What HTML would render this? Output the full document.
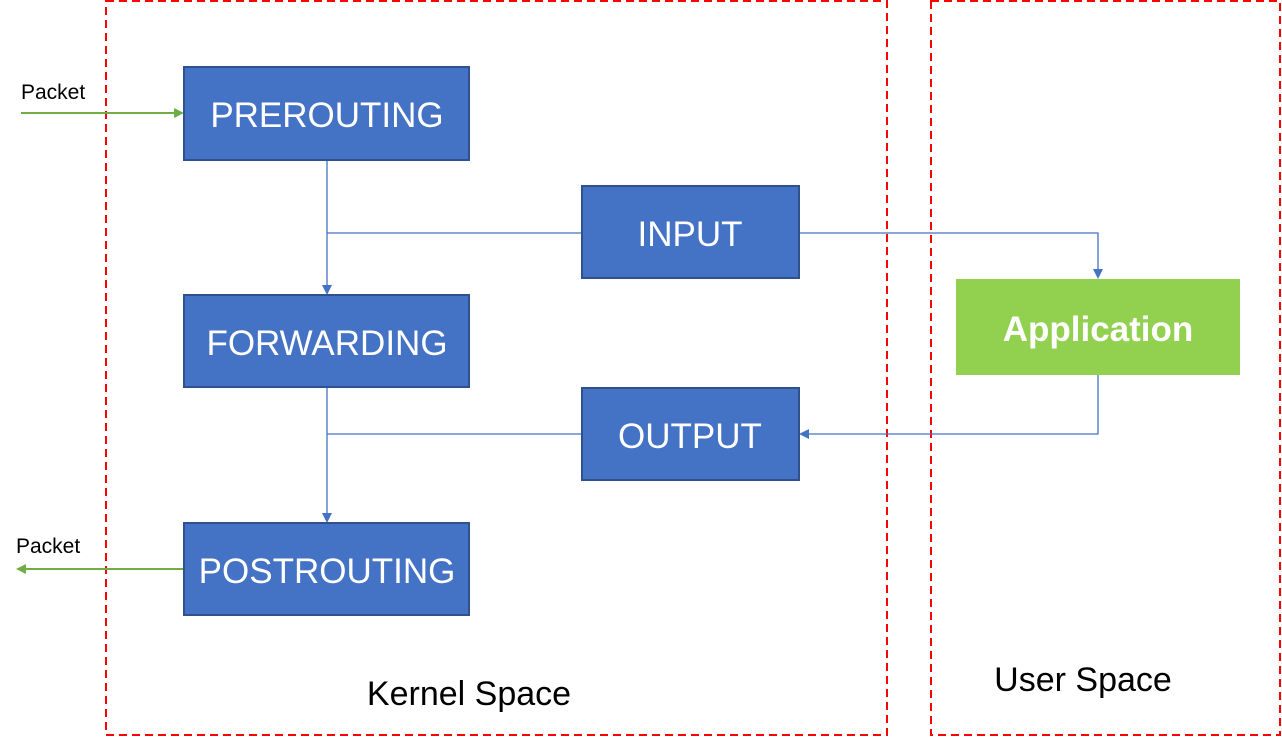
<!DOCTYPE html>
<html><head><style>
body{margin:0;background:#fff;width:1282px;height:737px;overflow:hidden;font-family:"Segoe UI","Liberation Sans",sans-serif}
</style></head><body>
<svg width="1282" height="737" xmlns="http://www.w3.org/2000/svg" font-family="Liberation Sans, sans-serif">
<rect x="106" y="1" width="781" height="734" fill="none" stroke="#f00" stroke-width="2" stroke-dasharray="8,5"/>
<rect x="931" y="1" width="349" height="734" fill="none" stroke="#f00" stroke-width="2" stroke-dasharray="8,5"/>
<g stroke="#4472c4" stroke-width="1.3" fill="none">
<path d="M327 160V287M327 233H582M799 233H1098V271M1098 375V434H807M327 387V515M327 434H582"/>
</g>
<g fill="#4472c4">
<path d="M322 285L332 285L327 295Z"/><path d="M322 513L332 513L327 523Z"/>
<path d="M1093 269L1103 269L1098 279Z"/><path d="M809 429L809 439L799 434Z"/>
</g>
<g stroke="#70ad47" stroke-width="2"><path d="M21 113H176M184 569H26"/></g>
<g fill="#70ad47"><path d="M174 108L184 113L174 118Z"/><path d="M26 564L16 569L26 574Z"/></g>
<g fill="#4472c4" stroke="#2f528f" stroke-width="2">
<rect x="184" y="67" width="285" height="93"/><rect x="582" y="186" width="217" height="92"/>
<rect x="184" y="295" width="285" height="92"/><rect x="582" y="388" width="217" height="92"/>
<rect x="184" y="523" width="285" height="92"/>
</g>
<rect x="956" y="279" width="284" height="96" fill="#92d050"/>
<g fill="#fff" font-size="35" text-anchor="middle">
<text x="327" y="127">PREROUTING</text><text x="690" y="246">INPUT</text>
<text x="327" y="355">FORWARDING</text><text x="690" y="448">OUTPUT</text>
<text x="327" y="583">POSTROUTING</text>
<text x="1098" y="341" font-weight="bold" font-size="35">Application</text>
</g>
<g fill="#000">
<text x="21" y="99" font-size="21">Packet</text><text x="16" y="553" font-size="21">Packet</text>
<text x="469" y="705" font-size="34" text-anchor="middle">Kernel Space</text>
<text x="1083" y="691" font-size="34" text-anchor="middle">User Space</text>
</g>
</svg>
</body></html>
